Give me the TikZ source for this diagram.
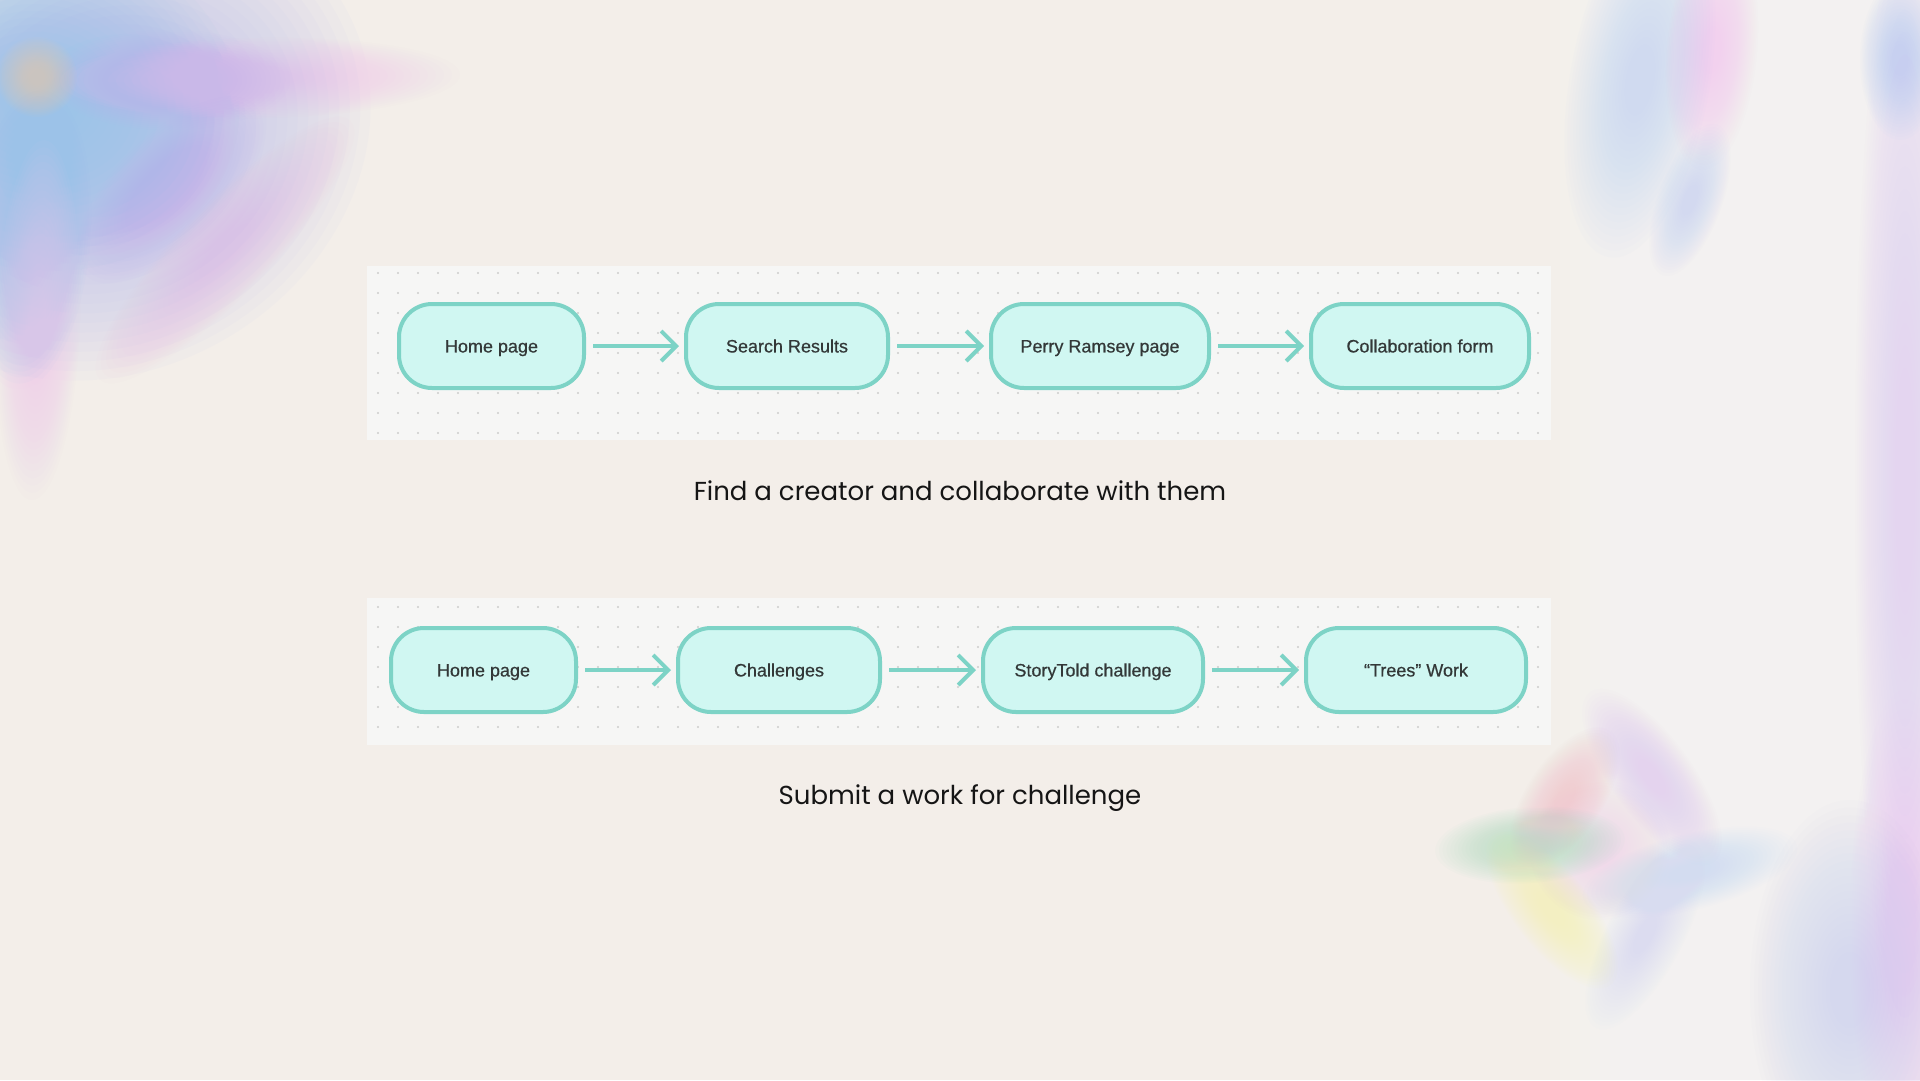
\documentclass[tikz,border=0pt]{standalone}
\usepackage{fontspec}
\setmainfont{Liberation Sans}
\newfontfamily\capfont{Poppins}
\newfontfamily\nodefont{Liberation Sans}[FakeBold=0.6]
\usetikzlibrary{arrows.meta}
\definecolor{bg}{HTML}{F3EEE9}
\definecolor{panelc}{HTML}{F6F6F5}
\definecolor{dotc}{HTML}{CCCCCC}
\definecolor{mint}{HTML}{D0F7F2}
\definecolor{tealb}{HTML}{7DD3C6}
\definecolor{labelc}{HTML}{333838}
\definecolor{capc}{HTML}{151515}
\newcommand\softblob[6]{%
  \definecolor{blobc}{HTML}{#6}%
  \foreach \s in {1,0.96,...,0.2}{%
    \fill[blobc, opacity=0.045, rotate around={#5:(#1,#2)}] (#1,#2) ellipse ({#3*\s} and {#4*\s});
  }}
\tikzset{
  pagebox/.style={draw=tealb, line width=4pt, fill=mint, rounded corners=33pt,
    minimum height=84pt, text=labelc, font=\nodefont\fontsize{18}{21}\selectfont, inner sep=0pt,
    text height=12.9pt, text depth=0pt},
  flowarrow/.style={draw=tealb, line width=4pt,
    -{Straight Barb[length=15pt,width=30pt,line width=4pt]}, shorten <=7pt, shorten >=5pt},
  caption/.style={text=capc, font=\capfont\fontsize{26}{30}\selectfont, inner sep=0pt}
}
\begin{document}
\begin{tikzpicture}[x=1pt,y=-1pt]
\useasboundingbox (0,0) rectangle (1920,1080);
\fill[bg] (0,0) rectangle (1920,1080);

% right white glow
\foreach \x in {1550,1560,...,1760}{\fill[white,opacity=0.07] (\x,0) rectangle (1920,1080);}

% top-left blurred star
\softblob{110}{140}{270}{230}{30}{ADB3F0}
\softblob{40}{100}{170}{200}{80}{8EC4E8}
\softblob{30}{240}{150}{60}{85}{9CC2EC}
\softblob{260}{78}{200}{40}{1}{F0C4E8}
\softblob{170}{80}{120}{50}{0}{C9B8F2}
\softblob{225}{250}{180}{45}{46}{EFC2E6}
\softblob{170}{190}{120}{55}{45}{C7B6F0}
\softblob{38}{320}{180}{42}{88}{EFC6E8}
\softblob{37}{77}{40}{40}{0}{F3D3AE}

% top-right blobs
\softblob{1640}{80}{180}{70}{80}{C2D6F0}
\softblob{1712}{50}{120}{45}{85}{F2C4EE}
\softblob{1690}{200}{80}{32}{70}{C6D4F0}
\softblob{1905}{480}{560}{50}{90}{E4CCF0}
\softblob{1900}{60}{80}{40}{90}{B8CEF0}
\softblob{1850}{990}{190}{100}{90}{CBD2EE}
\softblob{1905}{930}{240}{55}{90}{EBCBF0}

% lower-right blurred star
\softblob{1600}{850}{70}{70}{0}{F0D4EA}
\softblob{1530}{845}{95}{38}{4}{A6E2BC}
\softblob{1552}{910}{95}{38}{128}{F4F2B2}
\softblob{1565}{797}{80}{38}{56}{F0C2CC}
\softblob{1652}{777}{105}{40}{-54}{E4C8EE}
\softblob{1690}{872}{110}{38}{14}{C6DEF2}
\softblob{1645}{935}{105}{38}{62}{D8DCF0}

% panels with dot grid
\fill[panelc] (367,266) rectangle (1551,440);
\foreach \i in {0,...,58}{\foreach \j in {0,...,8}{\fill[dotc] (378+20*\i,273+20*\j) circle (1.1);}}
\fill[panelc] (367,598) rectangle (1551,745);
\foreach \i in {0,...,58}{\foreach \j in {0,...,6}{\fill[dotc] (378+20*\i,607+20*\j) circle (1.1);}}

% row 1
\node[pagebox, minimum width=185pt] (a1) at (491.5,346) {Home page};
\node[pagebox, minimum width=202pt] (a2) at (787,346) {Search Results};
\node[pagebox, minimum width=218pt] (a3) at (1100,346) {Perry Ramsey page};
\node[pagebox, minimum width=218pt] (a4) at (1420,346) {Collaboration form};
\draw[flowarrow] (a1) -- (a2);
\draw[flowarrow] (a2) -- (a3);
\draw[flowarrow] (a3) -- (a4);
\node[caption] (c1) at (960,491) {Find a creator and collaborate with them};

% row 2
\node[pagebox, minimum width=185pt] (b1) at (483.5,670) {Home page};
\node[pagebox, minimum width=202pt] (b2) at (779,670) {Challenges};
\node[pagebox, minimum width=220pt] (b3) at (1093,670) {StoryTold challenge};
\node[pagebox, minimum width=220pt] (b4) at (1416,670) {“Trees” Work};
\draw[flowarrow] (b1) -- (b2);
\draw[flowarrow] (b2) -- (b3);
\draw[flowarrow] (b3) -- (b4);
\node[caption] (c2) at (960,798) {Submit a work for challenge};
\end{tikzpicture}
\end{document}
